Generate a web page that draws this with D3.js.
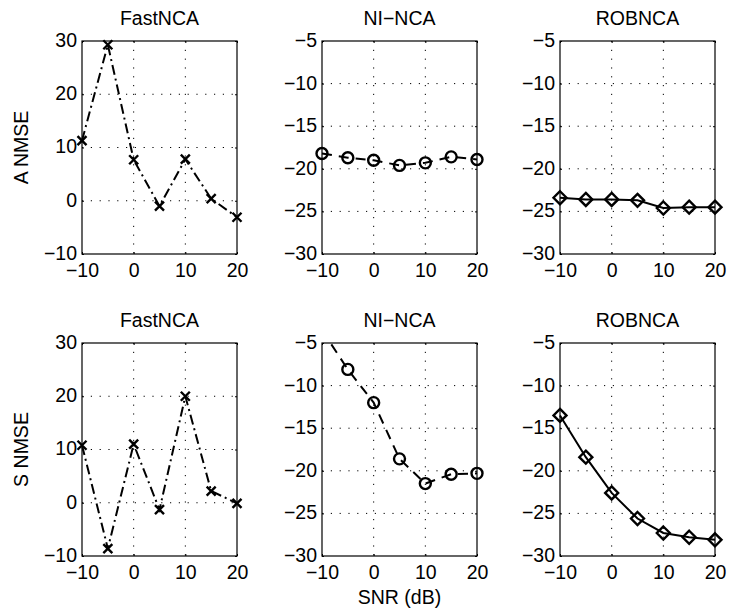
<!DOCTYPE html>
<html>
<head>
<meta charset="utf-8">
<script src="https://cdn.jsdelivr.net/npm/d3@7"></script>
<style>
  body { margin: 0; background: #fff; }
  text { font-family: "Liberation Sans", Arial, sans-serif; }
</style>
</head>
<body>
<svg id="chart" width="729" height="612"></svg>
<script>
var snr = [-10, -5, 0, 5, 10, 15, 20];

var aFast = [11.3, 29.3, 7.7, -1.0, 7.8, 0.4, -3.1];
var aNi = [-18.2, -18.7, -19.0, -19.6, -19.3, -18.6, -18.9];
var aRob = [-23.4, -23.6, -23.6, -23.7, -24.6, -24.5, -24.5];

var sFast = [10.8, -8.6, 11.0, -1.3, 20.0, 2.2, -0.1];
var sNi = [-3.5, -8.1, -12.0, -18.6, -21.5, -20.4, -20.3];
var sRob = [-13.5, -18.4, -22.6, -25.6, -27.3, -27.8, -28.1];

var xTicks = [-10, 0, 10, 20];
var yTicksFast = [-10, 0, 10, 20, 30];
var yTicksNca = [-30, -25, -20, -15, -10, -5];

var titles = ['FastNCA', 'NI\u2212NCA', 'ROBNCA'];
var rowLabels = ['A NMSE', 'S NMSE'];

var svg = d3.select('#chart');

var colX = [82, 322, 560];
var rowY = [41, 343];
var pw = 155, ph = 213;
var fs = 19.5;

var fmt = function(d) { return String(d).replace('-', '\u2212'); };

var panels = [
  {row: 0, col: 0, data: aFast, dom: [-10, 30], ticks: yTicksFast, mark: 'x', dash: '10,4,2,4'},
  {row: 0, col: 1, data: aNi, dom: [-30, -5], ticks: yTicksNca, mark: 'o', dash: '10,7'},
  {row: 0, col: 2, data: aRob, dom: [-30, -5], ticks: yTicksNca, mark: 'd', dash: null},
  {row: 1, col: 0, data: sFast, dom: [-10, 30], ticks: yTicksFast, mark: 'x', dash: '10,4,2,4'},
  {row: 1, col: 1, data: sNi, dom: [-30, -5], ticks: yTicksNca, mark: 'o', dash: '10,7'},
  {row: 1, col: 2, data: sRob, dom: [-30, -5], ticks: yTicksNca, mark: 'd', dash: null}
];

panels.forEach(function(p, i) {
  var g = svg.append('g')
    .attr('transform', 'translate(' + colX[p.col] + ',' + rowY[p.row] + ')');

  var x = d3.scaleLinear().domain([-10, 20]).range([0, pw]);
  var y = d3.scaleLinear().domain(p.dom).range([ph, 0]);

  // dotted grid
  g.selectAll('.gx').data(xTicks.slice(1, -1)).enter().append('line')
    .attr('x1', function(d) { return x(d); }).attr('x2', function(d) { return x(d); })
    .attr('y1', 0).attr('y2', ph)
    .attr('stroke', '#000').attr('stroke-width', 1).attr('stroke-dasharray', '1.2,7.6');
  g.selectAll('.gy').data(p.ticks.slice(1, -1)).enter().append('line')
    .attr('y1', function(d) { return y(d); }).attr('y2', function(d) { return y(d); })
    .attr('x1', 0).attr('x2', pw)
    .attr('stroke', '#000').attr('stroke-width', 1).attr('stroke-dasharray', '1.2,7.6');

  // axes
  var xAxis = g.append('g').attr('transform', 'translate(0,' + ph + ')')
    .call(d3.axisBottom(x).tickValues(xTicks).tickSizeInner(-2).tickSizeOuter(0).tickPadding(9).tickFormat(fmt));
  var yAxis = g.append('g')
    .call(d3.axisLeft(y).tickValues(p.ticks).tickSizeInner(-2).tickSizeOuter(0).tickPadding(5).tickFormat(fmt));
  g.append('g').attr('transform', 'translate(' + pw + ',0)')
    .call(d3.axisRight(y).tickValues(p.ticks).tickSizeInner(-2).tickSizeOuter(0).tickFormat(''));
  g.append('g')
    .call(d3.axisTop(x).tickValues(xTicks).tickSizeInner(-2).tickSizeOuter(0).tickFormat(''));
  g.selectAll('.domain').remove();
  g.selectAll('.tick line').attr('stroke', '#000');
  xAxis.selectAll('text').attr('font-size', fs).attr('fill', '#000').attr('dy', '0.72em');
  yAxis.selectAll('text').attr('font-size', fs).attr('fill', '#000').attr('dy', '0.28em');
  g.selectAll('.tick text').style('font-family', '"Liberation Sans", Arial, sans-serif');

  g.append('rect').attr('width', pw).attr('height', ph)
    .attr('fill', 'none').attr('stroke', '#000').attr('stroke-width', 1.2);

  g.append('text').attr('x', pw / 2).attr('y', -16)
    .attr('text-anchor', 'middle').attr('font-size', fs).text(titles[p.col]);

  // clipped data
  var cid = 'clip' + i;
  g.append('clipPath').attr('id', cid).append('rect')
    .attr('x', -8).attr('y', 0).attr('width', pw + 16).attr('height', ph);
  var pts = snr.map(function(s, k) { return [s, p.data[k]]; });
  var dg = g.append('g').attr('clip-path', 'url(#' + cid + ')');

  var line = d3.line().x(function(d) { return x(d[0]); }).y(function(d) { return y(d[1]); });
  dg.append('path').datum(pts).attr('d', line)
    .attr('fill', 'none').attr('stroke', '#000').attr('stroke-width', 2)
    .attr('stroke-dasharray', p.dash);

  var vis = pts.filter(function(d) { return d[1] <= p.dom[1]; });
  vis.forEach(function(d) {
    var cx = x(d[0]), cy = y(d[1]);
    if (p.mark === 'x') {
      var s = 4.5;
      g.append('path').attr('d', 'M' + (cx - s) + ',' + (cy - s) + 'L' + (cx + s) + ',' + (cy + s) +
        'M' + (cx - s) + ',' + (cy + s) + 'L' + (cx + s) + ',' + (cy - s))
        .attr('stroke', '#000').attr('stroke-width', 2.4).attr('fill', 'none');
    } else if (p.mark === 'o') {
      g.append('circle').attr('cx', cx).attr('cy', cy).attr('r', 5.5)
        .attr('stroke', '#000').attr('stroke-width', 2.4).attr('fill', 'none');
    } else {
      var r = 6.5;
      g.append('path').attr('d', 'M' + cx + ',' + (cy - r) + 'L' + (cx + r) + ',' + cy +
        'L' + cx + ',' + (cy + r) + 'L' + (cx - r) + ',' + cy + 'Z')
        .attr('stroke', '#000').attr('stroke-width', 2.4).attr('fill', 'none');
    }
  });
});

rowLabels.forEach(function(t, r) {
  svg.append('text')
    .attr('transform', 'translate(28,' + (rowY[r] + ph / 2) + ') rotate(-90)')
    .attr('text-anchor', 'middle').attr('font-size', fs).text(t);
});

svg.append('text').attr('x', colX[1] + pw / 2).attr('y', 604)
  .attr('text-anchor', 'middle').attr('font-size', fs).text('SNR (dB)');
</script>
</body>
</html>
